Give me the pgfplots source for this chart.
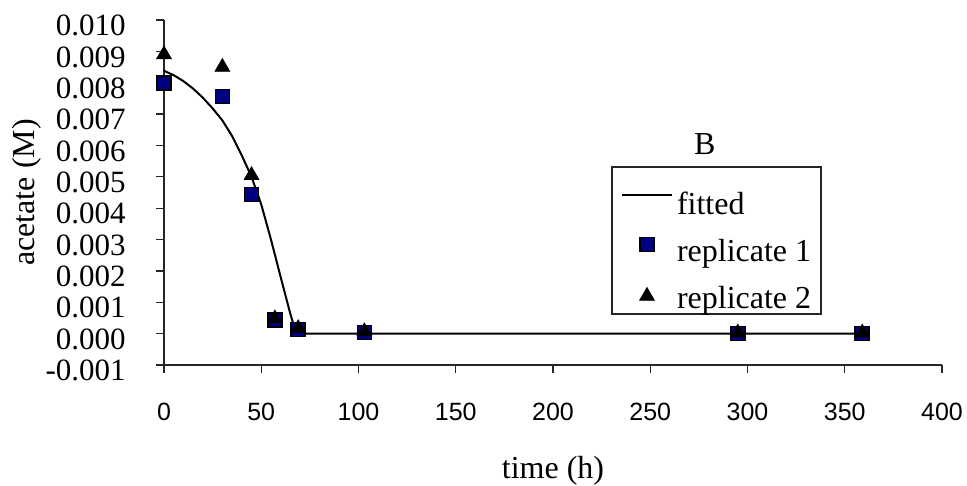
\documentclass[border=0pt]{standalone}
\usepackage{fontspec}
\setmainfont{Liberation Serif}
\newfontfamily\arialfont{Liberation Sans}
\usepackage{pgfplots}
\pgfplotsset{compat=1.18}
\definecolor{navyblue}{RGB}{0,0,128}
\pgfplotsset{
  fitimg/.style={legend image code/.code={\draw[#1] (0pt,9.5pt) -- (25pt,9.5pt);}},
  sqimg/.style={legend image code/.code={\draw[#1] plot coordinates {(12.5pt,8.25pt)};}},
  trimg/.style={legend image code/.code={\draw[#1] plot coordinates {(12.5pt,6pt)};}},
}
\begin{document}
\begin{tikzpicture}
\useasboundingbox (0,0) rectangle (483.5pt,243pt);
\begin{axis}[
  at={(82pt,60.5pt)}, anchor=south west,
  scale only axis, width=389pt, height=172.5pt,
  xmin=0, xmax=400, ymin=-0.001, ymax=0.010,
  axis x line=bottom, axis y line=left,
  axis line style={-, line width=0.6pt, black!85},
  tick align=outside, major tick length=4pt,
  tick style={line width=0.6pt, black!85},
  scaled y ticks=false, scaled x ticks=false,
  xtick={0,50,100,150,200,250,300,350,400},
  xticklabels={0,50,100,150,200,250,300,350,400},
  ytick={-0.001,0,0.001,0.002,0.003,0.004,0.005,0.006,0.007,0.008,0.009,0.010},
  yticklabels={-0.001,0.000,0.001,0.002,0.003,0.004,0.005,0.006,0.007,0.008,0.009,0.010},
  xticklabel style={font=\arialfont\fontsize{12.5}{12.5}\selectfont, anchor=base, inner sep=0pt, yshift=-23.5pt},
  yticklabel style={font=\fontsize{15.5}{15.5}\selectfont, anchor=east, inner sep=0pt, xshift=-15pt, yshift=-2.8pt},
  xlabel={time (h)},
  xlabel style={at={(axis description cs:0.5,-0.330)}, anchor=base, font=\fontsize{16}{16}\selectfont},
  ylabel={acetate (M)},
  ylabel style={at={(axis description cs:-0.176,0.5)}, anchor=center, font=\fontsize{16}{16}\selectfont},
  legend style={at={(rel axis cs:0.5874,0.5246)}, anchor=north west, draw=none, fill=none,
    inner sep=0pt, outer sep=0pt, column sep=0pt, row sep=5pt,
    font=\fontsize{16}{16}\selectfont,
    cells={anchor=base west, inner sep=0pt, text height=13pt, text depth=4.5pt}},
  clip=false,
]
\addplot[black, line width=1pt, no markers, fitimg]
  coordinates {(0,0.00838) (5,0.00824) (10,0.00805) (15,0.00781) (20,0.00752) (25,0.00718) (30,0.00680) (35,0.00630) (40,0.00568) (45,0.00500) (50,0.00412) (55,0.00300) (60,0.00180) (65,0.00062) (68,0) (360,0)};
\addlegendentry{fitted}
\addplot[only marks, mark=square*, mark size=3.5pt, mark options={fill=navyblue, draw=black, line width=0.8pt}, sqimg]
  coordinates {(0,0.00800) (30,0.00756) (45,0.00443) (57,0.00043) (69,0.00013) (103,0.00003) (295,0.0) (359,0.0)};
\addlegendentry{replicate 1}
\addplot[only marks, mark=triangle*, mark size=4.3pt, mark options={fill=black, draw=black, line width=0.3pt}, trimg]
  coordinates {(0,0.00890) (30,0.00850) (45,0.00505) (57,0.00048) (69,0.00017) (103,0.00007) (295,0.00003) (359,0.00003)};
\addlegendentry{replicate 2}
\draw[line width=0.6pt, black!85] (rel axis cs:0.5758,0.5739) rectangle (rel axis cs:0.8445,0.1478);
\node[anchor=base, font=\fontsize{16}{16}\selectfont] at (rel axis cs:0.695,0.609) {B};
\end{axis}
\end{tikzpicture}
\end{document}
